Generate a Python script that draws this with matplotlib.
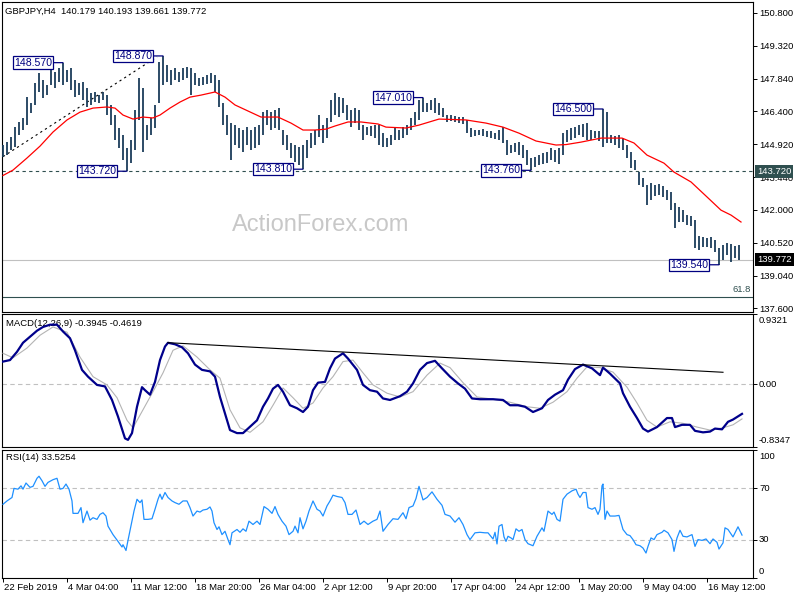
import matplotlib
matplotlib.use("Agg")
import matplotlib.pyplot as plt

plt.rcParams['font.family'] = ['Liberation Sans', 'DejaVu Sans']

# ---------------- data (time index = H4 bar number) ----------------
highs = [
    144.89, 145.02, 145.25, 145.69, 145.92, 146.10, 147.03, 146.77, 147.66, 148.11,
    147.79, 147.57, 148.24, 148.15, 148.33, 148.57, 148.24, 148.33, 147.79, 147.66,
    147.70, 147.44, 147.21, 147.26, 147.12, 147.26, 147.12, 146.68, 146.23, 145.65,
    145.34, 144.75, 145.11, 146.45, 147.88, 147.44, 145.78, 146.10, 146.68, 148.60,
    148.87, 148.46, 148.24, 148.33, 148.15, 148.33, 148.37, 148.33, 148.11, 147.88,
    147.93, 148.02, 148.11, 148.02, 147.79, 146.77, 146.23, 145.87, 145.78, 145.65,
    145.56, 145.69, 145.56, 145.69, 145.78, 146.36, 146.45, 146.36, 146.45, 146.54,
    145.56, 145.34, 144.98, 144.89, 144.80, 144.89, 145.11, 145.42, 145.56, 146.23,
    145.78, 146.10, 146.90, 147.21, 147.03, 146.99, 146.68, 146.45, 146.54, 146.45,
    145.78, 145.69, 145.74, 145.78, 145.78, 145.42, 145.20, 145.34, 145.65, 145.56,
    145.69, 145.78, 146.10, 146.36, 146.90, 147.01, 146.77, 146.90, 146.99, 146.77,
    146.54, 146.23, 146.23, 146.18, 146.14, 146.14, 146.01, 145.65, 145.56, 145.56,
    145.60, 145.51, 145.51, 145.42, 145.56, 145.69, 145.11, 144.89, 144.98, 145.02,
    144.89, 144.67, 144.31, 144.35, 144.44, 144.53, 144.58, 144.75, 144.67, 144.75,
    145.42, 145.56, 145.65, 145.69, 145.78, 145.83, 145.87, 145.56, 145.51, 145.51,
    146.50, 146.36, 145.34, 145.29, 145.34, 145.20, 144.89, 144.58, 144.22, 143.68,
    143.41, 143.10, 143.19, 143.10, 143.15, 143.06, 142.88, 142.79, 142.30, 142.12,
    141.98, 141.76, 141.72, 141.54, 140.82, 140.78, 140.73, 140.78, 140.64, 140.29,
    140.42, 140.51, 140.47, 140.38, 140.42]
lows = [
    144.35, 144.44, 144.67, 144.80, 145.34, 145.56, 145.78, 146.32, 146.68, 147.26,
    146.99, 147.12, 147.57, 147.44, 147.70, 147.57, 147.70, 147.35, 147.03, 147.12,
    146.90, 146.59, 146.68, 146.81, 146.77, 146.90, 146.23, 145.78, 145.11, 144.75,
    144.22, 143.72, 144.08, 144.67, 146.01, 144.58, 145.11, 145.34, 145.65, 146.77,
    147.57, 147.70, 147.57, 147.79, 147.70, 147.79, 147.88, 147.12, 147.57, 147.52,
    147.57, 147.61, 147.66, 147.26, 146.59, 145.78, 145.34, 144.22, 144.89, 144.75,
    144.58, 144.89, 144.67, 144.75, 144.89, 145.34, 145.78, 145.56, 145.65, 145.56,
    144.89, 144.67, 144.31, 144.13, 143.99, 143.81, 144.31, 144.75, 144.89, 145.25,
    144.98, 145.20, 145.92, 146.23, 146.14, 146.32, 146.01, 145.69, 145.87, 145.56,
    145.11, 145.34, 145.29, 145.20, 144.89, 144.80, 144.80, 144.89, 145.11, 145.11,
    145.20, 145.34, 145.56, 145.78, 146.01, 146.36, 146.36, 146.45, 146.32, 146.23,
    146.14, 145.92, 145.96, 145.92, 145.87, 145.83, 145.42, 145.25, 145.29, 145.34,
    145.29, 145.25, 145.20, 145.16, 145.11, 144.98, 144.44, 144.53, 144.58, 144.44,
    144.31, 143.99, 143.76, 143.91, 143.99, 144.04, 144.08, 144.22, 144.13, 144.04,
    144.44, 145.02, 145.11, 145.20, 145.34, 145.25, 145.11, 145.11, 145.20, 145.07,
    144.80, 144.98, 144.98, 144.89, 144.75, 144.67, 144.31, 143.86, 143.77, 143.10,
    143.01, 142.21, 142.43, 142.61, 142.65, 142.57, 142.43, 141.98, 141.18, 141.45,
    141.45, 141.31, 141.27, 140.29, 140.20, 140.33, 140.33, 140.29, 140.11, 139.54,
    139.75, 139.97, 139.66, 139.84, 139.77]

ma_pts = [(0, 143.53), (5, 143.77), (12, 144.31), (18.5, 144.84), (25, 145.47), (32, 146.01),
          (38.5, 146.36), (45, 146.54), (52, 146.59), (56, 146.54), (60, 146.23), (65, 146.05),
          (70, 146.14), (75, 146.10), (78.5, 146.23), (83.5, 146.54), (88.5, 146.81), (93.5, 147.03),
          (99, 147.12), (106, 147.26), (111, 147.03), (116, 146.68), (122.5, 146.41), (129, 146.14),
          (137.5, 146.14), (144, 145.87), (150, 145.56), (156, 145.56), (161.5, 145.60), (166, 145.74),
          (172.5, 145.92), (179, 145.92), (187.5, 145.83), (191.5, 145.69), (201.5, 145.65),
          (208, 145.78), (218, 146.05), (231.5, 146.01), (241.5, 145.87), (250, 145.69),
          (258, 145.42), (266.5, 145.07), (276.5, 144.89), (281.5, 144.91), (289, 145.02),
          (299, 145.20), (309.5, 145.20), (315.5, 144.98), (322, 144.44), (330.5, 144.08),
          (335.5, 143.68), (344, 143.24), (352, 142.57), (359, 141.98), (364, 141.76), (369, 141.45)]

label_idx = [30, 80, 62, 150, 210, 264, 300, 358]
label_price = [148.57, 148.87, 143.72, 143.81, 147.01, 143.76, 146.50, 139.54]

trend_idx = [0, 77]
trend_price = [144.37, 148.83]

support_level = 143.72
last_price = 139.772
fib_level = 138.10

price_ticks = [150.8, 149.32, 147.84, 146.40, 144.92, 143.44, 142.0, 140.52, 139.04, 137.6]

macd_main = [(0, 0.30), (3.5, 0.32), (7, 0.43), (10, 0.55), (13.5, 0.63), (17, 0.71), (20, 0.76),
             (23.5, 0.79), (27, 0.79), (30, 0.70), (33.5, 0.61), (36, 0.45), (39.5, 0.19), (42.5, 0.10),
             (47, -0.01), (51, -0.03), (54.5, -0.21), (57.5, -0.43), (61, -0.72), (62.5, -0.74),
             (64.5, -0.65), (67, -0.30), (69.5, -0.04), (71, -0.08), (73.5, -0.14), (76, 0.03),
             (78.5, 0.32), (81, 0.50), (82.5, 0.55), (86, 0.53), (89.5, 0.49), (92.5, 0.41), (96, 0.26),
             (99.5, 0.19), (103.5, 0.17), (106, 0.10), (108.5, -0.17), (111, -0.39), (113.5, -0.61),
             (117, -0.65), (120, -0.65), (122.5, -0.59), (127, -0.48), (130, -0.30), (132.5, -0.19),
             (135, -0.06), (137.5, -0.01), (140, -0.10), (143.5, -0.28), (147, -0.32), (150, -0.37),
             (152.5, -0.30), (155, -0.08), (157.5, 0.02), (161, 0.03), (163.5, 0.21), (166, 0.34),
             (170, 0.41), (172.5, 0.34), (177, 0.19), (180, -0.01), (183.5, -0.08), (187, -0.10),
             (190, -0.19), (193.5, -0.21), (198.5, -0.16), (202, -0.10), (205, 0.01), (208.5, 0.19),
             (212, 0.28), (216, 0.31), (219.5, 0.21), (223.5, 0.10), (227.5, 0.01), (231, -0.06),
             (234.5, -0.19), (238.5, -0.20), (245, -0.20), (250, -0.21), (253.5, -0.28), (257.5, -0.28),
             (261, -0.30), (265, -0.37), (269.5, -0.32), (272.5, -0.21), (276, -0.14), (280, -0.08),
             (282.5, 0.06), (286, 0.20), (290, 0.26), (294.5, 0.21), (298.5, 0.12), (300, 0.22),
             (303.5, 0.14), (308.5, 0.01), (310, -0.12), (313.5, -0.30), (317, -0.45), (320, -0.59),
             (322.5, -0.63), (327, -0.57), (332, -0.45), (334.5, -0.45), (336, -0.57), (339.5, -0.54),
             (343.5, -0.54), (346, -0.62), (350, -0.64), (353.5, -0.63), (356, -0.59), (359.5, -0.60),
             (362.5, -0.50), (365, -0.47), (369.5, -0.3945)]

macd_signal = [(0, 0.41), (5, 0.35), (12, 0.48), (18.5, 0.65), (25, 0.76), (32, 0.69), (38.5, 0.36),
               (45, 0.10), (52, -0.01), (57, -0.18), (62, -0.48), (65, -0.58), (70, -0.34), (75, -0.10),
               (80, 0.15), (85, 0.45), (90, 0.51), (97, 0.36), (103.5, 0.19), (108.5, 0.08),
               (113.5, -0.34), (118.5, -0.58), (123.5, -0.64), (130, -0.50), (135, -0.28), (140, -0.05),
               (145, -0.18), (150, -0.32), (155, -0.25), (160, -0.05), (165, 0.10), (170, 0.30),
               (175, 0.32), (180, 0.15), (185, -0.01), (192, -0.12), (198.5, -0.17), (205, -0.10),
               (212, 0.12), (218.5, 0.28), (223.5, 0.22), (230, 0.02), (237, -0.17), (245, -0.20),
               (253.5, -0.24), (262, -0.30), (268.5, -0.32), (275, -0.24), (282, -0.10), (287, 0.08),
               (292, 0.23), (298.5, 0.22), (305, 0.16), (312, -0.04), (317, -0.25), (322, -0.48),
               (327, -0.57), (333.5, -0.50), (340, -0.52), (347, -0.57), (353.5, -0.61), (360, -0.58),
               (365, -0.54), (369.5, -0.4619)]

macd_trend_idx = [82.5, 360]
macd_trend_val = [0.551, 0.158]
macd_range = (-0.8347, 0.9321)

rsi_pts = [(0, 57.6), (2, 60.2), (4.5, 62.9), (5.5, 70.0), (7.5, 69.4), (9, 72.0), (10, 69.4),
           (11.5, 74.2), (13.5, 70.8), (15, 71.6), (17, 77.9), (18, 79.5), (19.5, 76.0), (21, 71.6),
           (22.5, 74.7), (25, 76.8), (27, 77.9), (28.5, 69.4), (30, 70.0), (31.5, 73.4), (33, 69.4),
           (34.5, 60.2), (35, 50.5), (37.5, 50.5), (39, 55.0), (40, 43.2), (42, 52.3), (43.5, 45.2),
           (45, 47.1), (47, 45.8), (48.5, 49.7), (50, 51.0), (51.5, 48.4), (52.5, 40.5), (55, 33.9),
           (57.5, 28.6), (59.5, 24.2), (60, 26.0), (61.5, 21.5), (62.5, 29.4), (64.5, 44.4),
           (65.5, 52.3), (67, 61.5), (68.5, 58.9), (69.5, 61.0), (70.5, 45.8), (72.5, 45.8),
           (74.5, 46.3), (76, 53.7), (77.5, 61.5), (78.5, 65.5), (79.5, 61.5), (81, 66.8),
           (82.5, 62.9), (84.5, 60.2), (86, 58.9), (88, 57.6), (90, 60.2), (92, 60.2), (93.5, 55.0),
           (95, 48.4), (97, 52.3), (98.5, 51.5), (100, 53.1), (102, 53.7), (103.5, 55.5),
           (104.5, 52.3), (105.5, 43.2), (107, 37.9), (108, 40.0), (109.5, 33.9), (111, 36.5),
           (112.5, 30.0), (113.5, 26.0), (114.5, 35.3), (117, 37.9), (118.5, 35.7), (120, 38.4),
           (121.5, 36.5), (123, 44.4), (125, 41.8), (127, 44.4), (128.5, 41.8), (130.5, 55.8),
           (132.5, 53.7), (134.5, 50.5), (136, 55.8), (137.5, 49.7), (139.5, 44.4), (141.5, 40.5),
           (143, 33.9), (145, 36.5), (146, 40.5), (147.5, 35.3), (148.5, 47.1), (150, 38.4),
           (151.5, 44.4), (153, 52.3), (155, 60.2), (157, 53.7), (158.5, 52.3), (160, 48.4),
           (162, 56.3), (163.5, 60.2), (165, 64.7), (167, 63.7), (169.5, 62.9), (171, 58.9),
           (172.5, 49.7), (174.5, 49.7), (176.5, 53.1), (178.5, 41.8), (180.5, 44.4), (182.5, 41.8),
           (185, 44.4), (187, 45.8), (188.5, 52.3), (190, 36.5), (192.5, 41.8), (195, 46.3),
           (197.5, 45.8), (200, 51.0), (201.5, 46.3), (203, 55.0), (205, 56.3), (206.5, 62.1),
           (208, 71.6), (210, 61.0), (212, 62.9), (214.5, 67.3), (217, 61.5), (219.5, 56.8),
           (221, 49.7), (223.5, 48.4), (226, 43.6), (228, 47.1), (230, 41.8), (232, 33.9),
           (233.5, 30.0), (236, 35.3), (238.5, 35.7), (241, 35.3), (242.5, 35.3), (245, 30.5),
           (246, 35.7), (247, 26.6), (248, 40.5), (249.5, 41.8), (250.5, 32.1), (251.5, 28.6),
           (252.5, 32.6), (254, 31.3), (255, 30.0), (256.5, 38.4), (258, 36.5), (259.5, 37.9),
           (261, 30.0), (262.5, 26.8), (265, 25.2), (267, 32.6), (269.5, 39.2), (270.5, 36.5),
           (272.5, 52.3), (274.5, 49.7), (275.5, 51.5), (277, 45.8), (278.5, 44.4), (280, 61.5),
           (282, 65.5), (284.5, 68.1), (286.5, 69.4), (287.5, 65.5), (288.5, 62.9), (290, 66.8),
           (291.5, 66.8), (292.5, 55.0), (294.5, 53.7), (296, 55.0), (297.5, 49.7), (298.5, 53.7),
           (299.5, 72.0), (300, 73.4), (301, 45.8), (302, 52.3), (303.5, 48.4), (306, 48.4),
           (308, 48.9), (310, 37.9), (312, 33.9), (313.5, 33.1), (315, 30.0), (316.5, 26.0),
           (318.5, 25.2), (320, 23.4), (321.5, 19.5), (322.5, 24.7), (324, 31.3), (325.5, 30.0),
           (327, 33.9), (329.5, 35.7), (330.5, 37.3), (332.5, 35.3), (334.5, 30.0), (335.5, 20.8),
           (337, 31.3), (338.5, 37.3), (340, 32.6), (342, 32.1), (344.5, 33.9), (346, 24.7),
           (347.5, 30.0), (349.5, 29.4), (351.5, 30.5), (353.5, 26.8), (355, 30.5), (357, 27.9),
           (358, 22.6), (360, 27.4), (361, 39.2), (362.5, 37.9), (365, 32.1), (367.5, 40.0),
           (369.5, 33.5254)]
rsi_levels = [70, 30]

time_tick_idx = [0, 32, 64, 96, 128, 160, 192, 224, 256, 288, 320, 352]
time_tick_labels = ['22 Feb 2019', '4 Mar 04:00', '11 Mar 12:00', '18 Mar 20:00', '26 Mar 04:00',
                    '2 Apr 12:00', '9 Apr 20:00', '17 Apr 04:00', '24 Apr 12:00', '1 May 20:00',
                    '9 May 04:00', '16 May 12:00']

# ---------------- styling ----------------
W, H = 800, 600
BAR = '#1b3d5a'
NAVY = '#000080'
SLATE = '#2f4f4f'
FS = 6.8

fig = plt.figure(figsize=(8, 6), dpi=100)
fig.patch.set_facecolor('white')


def panel(top, bottom):
    return fig.add_axes([2 / W, 1 - bottom / H, 751 / W, (bottom - top) / H])


ax = panel(2, 312)
axm = panel(314, 447)
axr = panel(450, 578)

for a in (ax, axm, axr):
    a.set_xlim(-0.5, 375)
    for s in a.spines.values():
        s.set_linewidth(0.8)
        s.set_color('black')
    a.tick_params(axis='x', bottom=False, labelbottom=False)
    a.yaxis.tick_right()
    a.tick_params(axis='y', direction='out', length=2.6, width=0.7, pad=2.0,
                  labelsize=FS, colors='black')

# ---- main price panel ----
ax.set_ylim(137.43, 151.28)
ax.set_yticks(price_ticks)
ax.set_yticklabels([f'{v:.3f}' for v in price_ticks])

bar_idx = [2 * i for i in range(len(highs))]
ax.vlines(bar_idx, lows, highs, color=BAR, lw=1.3, zorder=3)
ma_x, ma_y = zip(*ma_pts)
ax.plot(ma_x, ma_y, color='#ff0000', lw=0.9, zorder=4)

ax.axhline(support_level, color=SLATE, lw=0.8, ls=(0, (3, 3)), zorder=2)
ax.axhline(last_price, color='#c0c0c0', lw=0.8, zorder=1)
ax.axhline(fib_level, color=SLATE, lw=0.8, zorder=1)
ax.annotate('61.8', xy=(1, fib_level), xycoords=('axes fraction', 'data'),
            xytext=(-2, 3), textcoords='offset pixels', ha='right', va='bottom',
            fontsize=FS, color=SLATE)
ax.plot(trend_idx, trend_price, color='black', lw=0.8, ls=(0, (2, 3)), zorder=2)

for j, p in zip(label_idx, label_price):
    ax.annotate(f'{p:.3f}', xy=(j, p), xytext=(-11, 0), textcoords='offset pixels',
                ha='right', va='center', fontsize=7.6, color=NAVY, zorder=6,
                bbox=dict(boxstyle='square,pad=0.12', fc='white', ec=NAVY, lw=0.9),
                arrowprops=dict(arrowstyle='-', color=NAVY, lw=0.9, shrinkA=0, shrinkB=0))

for val, fc in ((support_level, SLATE), (last_price, 'black')):
    ax.annotate(f'{val:.3f}', xy=(1, val), xycoords=('axes fraction', 'data'),
                xytext=(4, 0), textcoords='offset pixels', ha='left', va='center',
                fontsize=FS, color='white', annotation_clip=False, zorder=10,
                bbox=dict(boxstyle='square,pad=0.2', fc=fc, ec='none'))

ax.annotate('ActionForex.com', xy=(321, H - 225), xycoords='figure pixels',
            ha='center', va='center', fontsize=17, color='#c8c8c8', zorder=0.5)
ax.annotate('GBPJPY,H4  140.179 140.193 139.661 139.772', xy=(5, H - 11),
            xycoords='figure pixels', ha='left', va='center', fontsize=FS, color='black')

# ---- MACD panel ----
axm.set_ylim(*macd_range)
axm.set_yticks([macd_range[1], 0.0, macd_range[0]])
axm.set_yticklabels([])
axm.axhline(0, color='#c0c0c0', lw=0.8, ls=(0, (4, 3)), zorder=1)
sx, sy = zip(*macd_signal)
axm.plot(sx, sy, color='#b4b4b4', lw=0.8, zorder=3)
mx, my = zip(*macd_main)
axm.plot(mx, my, color='#00008b', lw=1.6, zorder=4)
axm.plot(macd_trend_idx, macd_trend_val, color='black', lw=0.8, zorder=5)
for val, txt, va, dy in ((macd_range[1], '0.9321', 'top', -2),
                         (0.0, '0.00', 'center', 0),
                         (macd_range[0], '-0.8347', 'bottom', 2)):
    axm.annotate(txt, xy=(1, val), xycoords=('axes fraction', 'data'), xytext=(6, dy),
                 textcoords='offset pixels', ha='left', va=va, fontsize=FS,
                 annotation_clip=False)
axm.annotate('MACD(12,26,9) -0.3945 -0.4619', xy=(6, H - 323), xycoords='figure pixels',
             ha='left', va='center', fontsize=FS, color='black', zorder=1)

# ---- RSI panel ----
axr.set_ylim(0, 100)
axr.set_yticks([100, 70, 30, 0])
axr.set_yticklabels([])
for lv in rsi_levels:
    axr.axhline(lv, color='#c0c0c0', lw=0.8, ls=(0, (4, 3)), zorder=1)
rx, ry = zip(*rsi_pts)
axr.plot(rx, ry, color='#1e90ff', lw=0.9, zorder=3)
for val, va, dy in ((100, 'top', -2), (70, 'center', 0), (30, 'center', 0), (0, 'bottom', 2)):
    axr.annotate(f'{val}', xy=(1, val), xycoords=('axes fraction', 'data'), xytext=(6, dy),
                 textcoords='offset pixels', ha='left', va=va, fontsize=FS,
                 annotation_clip=False)
axr.annotate('RSI(14) 33.5254', xy=(6, H - 458), xycoords='figure pixels',
             ha='left', va='center', fontsize=FS, color='black', zorder=1)

axr.set_xticks(time_tick_idx)
axr.tick_params(axis='x', bottom=True, direction='out', length=2.6, width=0.7)
for j, lab in zip(time_tick_idx, time_tick_labels):
    axr.annotate(lab, xy=(j, 0), xycoords=('data', 'axes fraction'), xytext=(1, -10),
                 textcoords='offset pixels', ha='left', va='center', fontsize=FS,
                 annotation_clip=False)

fig.savefig('out.png', dpi=100, facecolor='white')
